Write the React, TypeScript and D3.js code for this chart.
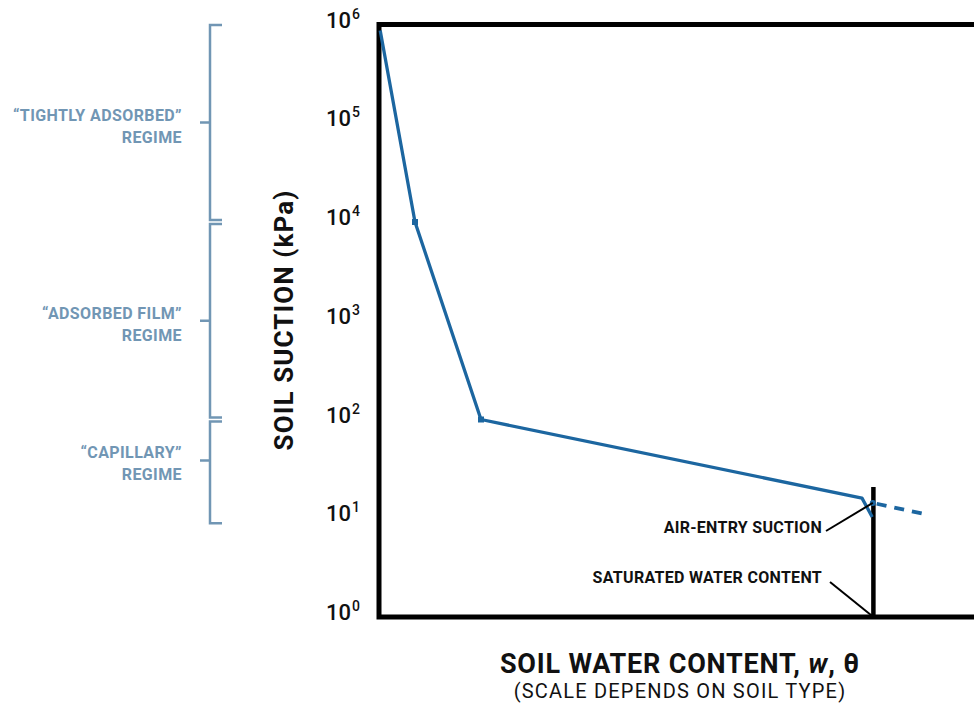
import React, { useEffect, useRef } from 'react';
import * as d3 from 'd3';

// water content (arbitrary 0-100 scale) vs suction (kPa)
const curveWater = [0.2, 6.0, 17.0, 80.5, 82.2];
const curveSuction = [870000, 10000, 100, 16, 10.3];
const markerIdx = [1, 2];

const dashWater = [82.3, 91.0];
const dashSuction = [14.3, 11];

const satWater = 82.4;
const satTop = 20.7;

const tickExp = [0, 1, 2, 3, 4, 5, 6];

const regimes = [
  { line1: '“TIGHTLY ADSORBED”', line2: 'REGIME', from: 1e6, to: 1e4 },
  { line1: '“ADSORBED FILM”', line2: 'REGIME', from: 1e4, to: 1e2 },
  { line1: '“CAPILLARY”', line2: 'REGIME', from: 1e2, to: 10 },
];

const App: React.FC = () => {
  const svgRef = useRef<SVGSVGElement>(null);

  useEffect(() => {
    if (!svgRef.current) return;
    const svg = d3.select(svgRef.current);
    svg.selectAll('*').remove();

    const width = 974;
    const left = 379, top = 24.5, bottom = 617;
    const font = 'Roboto, sans-serif';

    const x = d3.scaleLinear().domain([0, 100]).range([left, left + 600]);
    const y = d3.scaleLog().domain([1, 1e6]).range([bottom, top]);

    const blue = '#1c66a0';
    const regimeColor = '#7196b4';

    // frame
    svg.append('path')
      .attr('d', `M${width + 5},${top} H${left} V${bottom} H${width + 5}`)
      .attr('fill', 'none')
      .attr('stroke', '#000')
      .attr('stroke-width', 5);

    // y tick labels
    const ticks = svg.append('g').attr('font-family', font).attr('fill', '#111');
    tickExp.forEach(e => {
      ticks.append('text')
        .attr('x', 351)
        .attr('y', y(Math.pow(10, e)) + 3)
        .attr('text-anchor', 'end')
        .attr('font-size', 22)
        .attr('font-weight', 500)
        .text('10');
      ticks.append('text')
        .attr('x', 352)
        .attr('y', y(Math.pow(10, e)) - 6)
        .attr('font-size', 14)
        .attr('font-weight', 500)
        .text(String(e));
    });

    // y axis title
    svg.append('text')
      .attr('transform', `translate(293,320) rotate(-90)`)
      .attr('text-anchor', 'middle')
      .attr('font-family', font)
      .attr('font-size', 26)
      .attr('font-weight', 700)
      .attr('letter-spacing', 1.1)
      .attr('fill', '#111')
      .text('SOIL SUCTION (kPa)');

    // regime brackets
    const bx = 210;
    const rg = svg.append('g');
    regimes.forEach((r, i) => {
      const y0 = y(r.from) + (i === 0 ? 0.5 : 2);
      const y1 = y(r.to) - (i === regimes.length - 1 ? -5 : 2);
      const ym = i === 2 ? (y0 + y1) / 2 - 12 : (y0 + y1) / 2;
      rg.append('path')
        .attr('d', `M${bx + 12},${y0} H${bx} V${y1} H${bx + 12} M${bx},${ym} H${bx - 10}`)
        .attr('fill', 'none')
        .attr('stroke', regimeColor)
        .attr('stroke-width', 2.5);
      [r.line1, r.line2].forEach((s, k) => {
        rg.append('text')
          .attr('x', 182)
          .attr('y', ym - 2 + k * 22)
          .attr('text-anchor', 'end')
          .attr('font-family', font)
          .attr('font-size', 16)
          .attr('font-weight', 700)
          .attr('letter-spacing', 0.4)
          .attr('fill', regimeColor)
          .text(s);
      });
    });

    // saturated water content vertical line
    svg.append('line')
      .attr('x1', x(satWater)).attr('x2', x(satWater))
      .attr('y1', y(satTop)).attr('y2', bottom)
      .attr('stroke', '#000')
      .attr('stroke-width', 4.5);

    // curve
    const pts = curveWater.map((w, i) => [x(w), y(curveSuction[i])] as [number, number]);
    svg.append('path')
      .attr('d', d3.line()(pts))
      .attr('fill', 'none')
      .attr('stroke', blue)
      .attr('stroke-width', 3.3)
      .attr('stroke-linejoin', 'round');

    svg.append('g')
      .selectAll('rect')
      .data(markerIdx)
      .join('rect')
      .attr('x', d => pts[d][0] - 3)
      .attr('y', d => pts[d][1] - 3)
      .attr('width', 6)
      .attr('height', 6)
      .attr('fill', blue);

    const dpts = dashWater.map((w, i) => [x(w), y(dashSuction[i])] as [number, number]);
    svg.append('path')
      .attr('d', d3.line()(dpts))
      .attr('fill', 'none')
      .attr('stroke', blue)
      .attr('stroke-width', 3.8)
      .attr('stroke-dasharray', '10,8')
      .attr('stroke-dashoffset', -4);

    svg.append('circle')
      .attr('cx', dpts[0][0]).attr('cy', dpts[0][1]).attr('r', 3)
      .attr('fill', blue);

    // annotations
    const ann = svg.append('g')
      .attr('font-family', font)
      .attr('font-size', 16)
      .attr('font-weight', 700)
      .attr('letter-spacing', 0.3)
      .attr('fill', '#111')
      .attr('text-anchor', 'end');

    ann.append('text').attr('x', 822).attr('y', 533).text('AIR-ENTRY SUCTION');
    svg.append('line')
      .attr('x1', 826).attr('y1', 531)
      .attr('x2', dpts[0][0]).attr('y2', dpts[0][1])
      .attr('stroke', '#000').attr('stroke-width', 2);

    ann.append('text').attr('x', 822).attr('y', 583).text('SATURATED WATER CONTENT');
    svg.append('line')
      .attr('x1', 830).attr('y1', 582)
      .attr('x2', x(satWater)).attr('y2', bottom)
      .attr('stroke', '#000').attr('stroke-width', 2);

    // x axis title
    const xt = svg.append('text')
      .attr('x', 680)
      .attr('y', 673)
      .attr('text-anchor', 'middle')
      .attr('font-family', font)
      .attr('font-size', 27)
      .attr('font-weight', 700)
      .attr('letter-spacing', 0.8)
      .attr('fill', '#111');
    xt.append('tspan').text('SOIL WATER CONTENT, ');
    xt.append('tspan').attr('font-style', 'italic').text('w');
    xt.append('tspan').text(', θ');

    svg.append('text')
      .attr('x', 680)
      .attr('y', 698)
      .attr('text-anchor', 'middle')
      .attr('font-family', font)
      .attr('font-size', 20)
      .attr('letter-spacing', 1.2)
      .attr('fill', '#111')
      .text('(SCALE DEPENDS ON SOIL TYPE)');
  }, []);

  return (
    <div style={{ position: 'absolute', left: 0, top: 0, width: 974, height: 704, background: '#fff', overflow: 'hidden' }}>
      <svg ref={svgRef} width={974} height={704} style={{ display: 'block' }}></svg>
    </div>
  );
};

export default App;
